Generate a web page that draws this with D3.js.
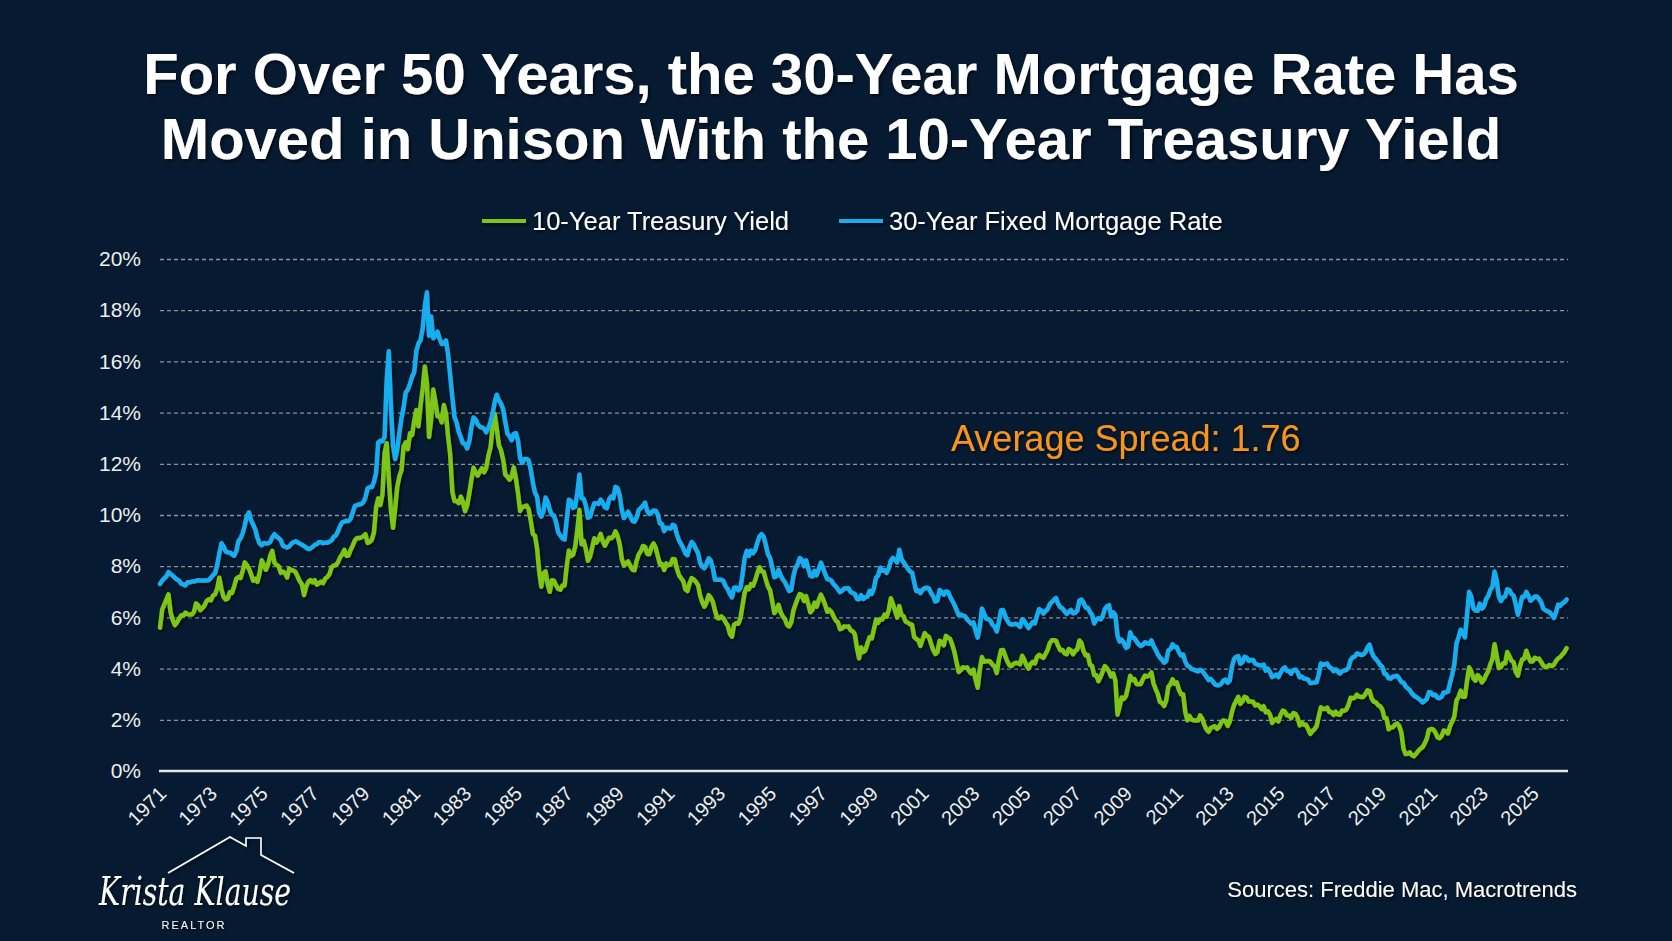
<!DOCTYPE html>
<html>
<head>
<meta charset="utf-8">
<script src="https://cdn.jsdelivr.net/npm/d3@7"></script>
<style>
  html, body { margin: 0; padding: 0; background: #061a31; }
  svg { display: block; font-family: "Liberation Sans", Arial, sans-serif; }
</style>
</head>
<body>
<svg id="chart"></svg>
<script>
// monthly values, first row starts April 1971, one row per calendar year
const firstYear = 1971;
const firstMonth = 3; // 0 = January

const mortgageRows = [
  [7.31,7.43,7.53,7.60,7.77,7.69,7.63,7.55,7.48],
  [7.44,7.32,7.29,7.25,7.37,7.37,7.40,7.40,7.43,7.45,7.44,7.44],
  [7.44,7.44,7.46,7.54,7.65,7.73,8.05,8.50,8.90,8.77,8.58,8.54],
  [8.54,8.46,8.41,8.58,8.97,9.09,9.28,9.59,9.96,10.10,9.79,9.62],
  [9.43,9.10,8.89,8.82,8.91,8.89,8.89,8.94,9.13,9.25,9.15,9.10],
  [9.02,8.81,8.76,8.73,8.77,8.88,8.94,8.97,8.93,8.88,8.84,8.79],
  [8.72,8.67,8.69,8.75,8.83,8.86,8.94,8.94,8.90,8.92,8.92,8.96],
  [9.01,9.15,9.20,9.36,9.57,9.71,9.74,9.78,9.76,9.86,10.11,10.35],
  [10.39,10.41,10.43,10.50,10.69,11.04,11.09,11.09,11.30,11.64,12.83,12.90],
  [12.88,13.04,15.28,16.40,14.26,12.71,12.19,12.56,13.20,13.79,14.21,14.79],
  [14.90,15.13,15.40,15.58,16.40,16.70,16.83,17.29,18.16,18.70,17.00,17.75],
  [16.90,17.00,17.16,16.89,16.68,16.70,16.82,16.27,15.43,14.61,13.83,13.62],
  [13.25,13.04,12.80,12.78,12.60,12.87,13.42,13.81,13.73,13.54,13.44,13.42],
  [13.37,13.23,13.39,13.65,13.94,14.42,14.70,14.47,14.35,14.13,13.64,13.18],
  [13.08,12.92,13.17,13.20,12.91,12.22,12.03,12.19,12.19,12.14,11.78,11.26],
  [10.88,10.71,10.08,9.94,10.14,10.68,10.51,10.20,10.01,9.98,9.70,9.32],
  [9.20,9.08,9.04,9.83,10.60,10.54,10.28,10.33,10.89,11.58,10.65,10.64],
  [10.38,9.89,9.93,10.20,10.46,10.46,10.43,10.60,10.48,10.30,10.27,10.61],
  [10.73,10.65,11.10,11.05,10.77,10.20,9.88,9.99,10.13,9.95,9.77,9.74],
  [9.90,10.20,10.27,10.37,10.48,10.16,10.04,10.10,10.18,10.17,10.01,9.67],
  [9.64,9.37,9.50,9.49,9.47,9.62,9.58,9.24,9.01,8.86,8.71,8.50],
  [8.43,8.76,8.94,8.85,8.67,8.51,8.13,7.98,7.92,8.09,8.31,8.22],
  [7.91,7.47,7.47,7.47,7.47,7.42,7.21,7.11,6.92,6.78,7.16,7.17],
  [7.06,7.15,7.68,8.32,8.60,8.40,8.61,8.51,8.64,8.93,9.17,9.25],
  [9.15,8.83,8.46,8.32,7.96,7.57,7.61,7.86,7.64,7.48,7.38,7.20],
  [7.03,7.08,7.62,7.93,8.07,8.32,8.25,8.00,8.23,7.92,7.62,7.60],
  [7.82,7.65,7.90,8.14,7.94,7.69,7.50,7.48,7.43,7.29,7.21,7.10],
  [6.99,7.04,7.13,7.14,7.14,7.00,6.95,6.92,6.72,6.71,6.87,6.72],
  [6.79,6.81,7.04,6.92,7.15,7.55,7.63,7.94,7.82,7.85,7.74,7.91],
  [8.21,8.33,8.24,8.15,8.64,8.29,8.15,8.03,7.91,7.80,7.75,7.38],
  [7.03,7.05,6.95,7.08,7.15,7.16,7.13,6.95,6.82,6.62,6.66,7.07],
  [7.00,6.89,7.01,6.99,6.81,6.65,6.49,6.29,6.09,6.11,6.07,6.05],
  [5.92,5.84,5.75,5.81,5.48,5.21,5.63,6.35,6.15,5.95,5.93,5.88],
  [5.71,5.64,5.45,5.83,6.27,6.29,6.06,5.87,5.75,5.72,5.73,5.75],
  [5.71,5.63,5.93,5.86,5.72,5.58,5.70,5.82,5.77,6.07,6.33,6.27],
  [6.15,6.25,6.32,6.51,6.60,6.68,6.76,6.52,6.40,6.36,6.24,6.14],
  [6.22,6.29,6.16,6.18,6.26,6.66,6.70,6.57,6.38,6.38,6.21,6.10],
  [5.76,5.92,5.97,5.92,6.04,6.32,6.43,6.48,6.04,6.20,6.09,5.29],
  [5.06,5.13,5.00,4.81,4.86,5.42,5.22,5.19,5.06,4.95,4.88,4.93],
  [5.03,4.99,4.97,5.10,4.89,4.74,4.56,4.43,4.35,4.23,4.30,4.71],
  [4.76,4.95,4.84,4.84,4.64,4.51,4.55,4.27,4.11,4.07,3.99,3.96],
  [3.92,3.89,3.95,3.91,3.80,3.68,3.55,3.60,3.50,3.38,3.35,3.35],
  [3.41,3.53,3.57,3.45,3.54,4.07,4.37,4.46,4.49,4.19,4.26,4.46],
  [4.43,4.30,4.34,4.34,4.19,4.16,4.13,4.12,4.16,3.92,4.00,3.86],
  [3.67,3.71,3.77,3.67,3.84,3.98,4.05,3.91,3.89,3.80,3.94,3.96],
  [3.87,3.66,3.69,3.61,3.60,3.57,3.44,3.44,3.46,3.47,3.77,4.20],
  [4.15,4.17,4.20,4.05,4.01,3.90,3.97,3.88,3.81,3.90,3.92,3.95],
  [4.03,4.33,4.44,4.47,4.59,4.57,4.53,4.55,4.63,4.83,4.94,4.64],
  [4.46,4.37,4.27,4.14,4.07,3.80,3.77,3.62,3.61,3.69,3.70,3.72],
  [3.62,3.47,3.45,3.31,3.23,3.16,3.02,2.94,2.89,2.83,2.77,2.68],
  [2.74,2.81,3.08,3.06,2.96,2.98,2.87,2.84,2.90,3.07,3.07,3.10],
  [3.45,3.76,4.17,4.98,5.23,5.52,5.41,5.22,6.11,7.00,6.81,6.36],
  [6.27,6.26,6.54,6.34,6.43,6.71,6.84,7.07,7.20,7.79,7.44,6.82],
  [6.64,6.78,6.82,7.10,7.06,6.92,6.85,6.50,6.10,6.43,6.81,6.80],
  [7.00,6.84,6.65,6.73,6.82,6.82,6.72,6.59,6.35,6.28,6.24,6.20],
  [6.10,5.98,6.20,6.50,6.45,6.55,6.60,6.70]
];

const treasuryRows = [
  [5.60,6.30,6.50,6.70,6.90,6.20,5.90,5.70,5.80],
  [5.95,6.08,6.07,6.19,6.13,6.11,6.11,6.21,6.55,6.48,6.28,6.36],
  [6.46,6.64,6.71,6.67,6.85,6.90,7.13,7.55,7.10,6.80,6.70,6.74],
  [6.99,6.96,7.21,7.51,7.58,7.54,7.81,8.15,8.04,7.90,7.68,7.43],
  [7.50,7.39,7.73,8.23,8.06,7.86,8.06,8.40,8.60,8.14,8.05,8.00],
  [7.74,7.79,7.73,7.56,7.90,7.86,7.83,7.77,7.59,7.41,7.29,6.87],
  [7.21,7.39,7.46,7.37,7.46,7.28,7.33,7.40,7.34,7.52,7.58,7.69],
  [7.96,8.03,8.04,8.15,8.35,8.46,8.64,8.41,8.42,8.64,8.81,9.01],
  [9.10,9.10,9.12,9.18,9.25,8.91,8.95,9.03,9.33,10.30,10.65,10.39],
  [10.80,12.41,12.80,11.47,10.18,9.50,10.25,11.10,11.51,11.75,12.68,12.84],
  [12.57,13.19,13.12,13.68,14.10,13.47,14.28,14.94,15.80,15.15,13.05,13.72],
  [14.90,14.43,13.86,13.87,13.62,14.30,13.95,13.06,12.34,10.91,10.55,10.54],
  [10.46,10.72,10.51,10.15,10.38,10.85,11.38,11.85,11.65,11.54,11.69,11.83],
  [11.67,11.84,12.32,12.63,13.41,13.95,13.36,12.72,12.52,12.16,11.57,11.50],
  [11.38,11.51,11.86,11.43,10.85,10.16,10.31,10.33,10.37,10.24,9.78,9.26],
  [9.19,8.70,7.78,7.20,7.71,7.80,7.30,7.00,7.45,7.43,7.25,7.11],
  [7.08,7.25,7.25,8.02,8.61,8.40,8.45,8.76,9.42,10.20,8.86,8.99],
  [8.67,8.21,8.37,8.72,9.09,8.92,9.06,9.26,8.98,8.80,8.96,9.11],
  [9.09,9.17,9.36,9.18,8.86,8.28,8.02,8.11,8.19,8.01,7.87,7.84],
  [8.21,8.47,8.59,8.79,8.76,8.48,8.47,8.75,8.89,8.72,8.39,8.08],
  [8.09,7.85,8.11,8.04,8.07,8.28,8.27,7.90,7.65,7.53,7.42,7.09],
  [7.03,7.34,7.54,7.48,7.39,7.26,6.84,6.59,6.42,6.59,6.87,6.77],
  [6.60,6.26,5.98,5.97,6.04,5.96,5.81,5.68,5.36,5.25,5.72,5.77],
  [5.75,5.97,6.48,6.97,7.18,7.10,7.30,7.24,7.46,7.74,7.96,7.81],
  [7.78,7.47,7.20,7.06,6.63,6.17,6.28,6.49,6.20,6.04,5.93,5.71],
  [5.65,5.81,6.27,6.51,6.74,6.91,6.87,6.64,6.83,6.53,6.20,6.30],
  [6.58,6.42,6.69,6.89,6.71,6.49,6.22,6.30,6.21,6.03,5.88,5.81],
  [5.54,5.57,5.65,5.64,5.65,5.50,5.46,5.34,4.81,4.40,4.83,4.65],
  [4.72,5.00,5.23,5.18,5.54,5.90,5.79,5.94,5.92,6.11,6.03,6.28],
  [6.75,6.52,6.26,5.99,6.44,6.10,6.05,5.83,5.80,5.74,5.72,5.24],
  [5.16,5.10,4.89,5.14,5.39,5.28,5.24,4.97,4.73,4.57,4.65,5.09],
  [5.04,4.91,5.28,5.21,5.16,4.93,4.65,4.26,3.87,3.94,4.05,4.03],
  [4.05,3.90,3.81,3.96,3.57,3.25,3.98,4.45,4.27,4.29,4.30,4.27],
  [4.15,4.08,3.83,4.35,4.72,4.73,4.50,4.28,4.13,4.10,4.19,4.23],
  [4.22,4.17,4.50,4.34,4.14,4.00,4.18,4.26,4.20,4.46,4.54,4.47],
  [4.42,4.57,4.72,4.99,5.11,5.11,5.09,4.88,4.72,4.73,4.60,4.56],
  [4.76,4.72,4.56,4.69,4.75,5.10,5.00,4.67,4.52,4.53,4.15,4.10],
  [3.74,3.74,3.51,3.68,3.88,4.10,4.01,3.89,3.69,3.81,3.53,2.20],
  [2.52,2.87,2.82,2.93,3.29,3.72,3.56,3.59,3.40,3.39,3.40,3.59],
  [3.73,3.69,3.73,3.85,3.42,3.20,3.01,2.70,2.65,2.54,2.76,3.29],
  [3.39,3.58,3.41,3.46,3.17,3.00,3.00,2.30,1.98,2.15,2.01,1.98],
  [1.97,1.97,2.17,2.05,1.80,1.62,1.53,1.68,1.72,1.75,1.65,1.72],
  [1.91,1.98,1.96,1.76,1.93,2.30,2.58,2.74,2.90,2.62,2.72,2.90],
  [2.86,2.71,2.72,2.71,2.56,2.60,2.54,2.42,2.53,2.30,2.33,2.21],
  [1.88,1.98,2.04,1.94,2.20,2.36,2.32,2.17,2.17,2.07,2.26,2.24],
  [2.09,1.78,1.89,1.81,1.81,1.64,1.45,1.56,1.63,1.76,2.14,2.49],
  [2.43,2.42,2.48,2.30,2.30,2.19,2.32,2.21,2.20,2.36,2.35,2.40],
  [2.58,2.86,2.84,2.87,2.98,2.91,2.89,2.89,3.00,3.15,3.12,2.83],
  [2.71,2.68,2.57,2.53,2.40,2.07,2.06,1.63,1.70,1.71,1.81,1.86],
  [1.76,1.50,0.87,0.66,0.67,0.73,0.62,0.58,0.68,0.79,0.87,0.93],
  [1.08,1.26,1.61,1.64,1.62,1.52,1.32,1.28,1.37,1.58,1.56,1.47],
  [1.76,1.93,2.13,2.75,2.90,3.14,2.90,2.90,3.52,4.05,3.89,3.62],
  [3.53,3.75,3.66,3.46,3.57,3.75,3.90,4.17,4.38,4.95,4.50,4.02],
  [4.06,4.21,4.21,4.65,4.48,4.31,4.25,3.87,3.72,4.10,4.36,4.39],
  [4.70,4.45,4.28,4.28,4.42,4.38,4.39,4.26,4.12,4.06,4.09,4.14],
  [4.10,4.15,4.30,4.40,4.45,4.55,4.65,4.80]
];

const yTickValues = [0, 2, 4, 6, 8, 10, 12, 14, 16, 18, 20];
const xTickYears = d3.range(1971, 2026, 2);

const seriesNames = ["10-Year Treasury Yield", "30-Year Fixed Mortgage Rate"];
const seriesColors = ["#7dc512", "#17aef0"];
const titleLines = [
  "For Over 50 Years, the 30-Year Mortgage Rate Has",
  "Moved in Unison With the 10-Year Treasury Yield"
];
const spreadNote = "Average Spread: 1.76";
const sourceNote = "Sources: Freddie Mac, Macrotrends";

// turn the year rows into [decimal year, value] points
function toPoints(rows) {
  const pts = [];
  rows.forEach((row, r) => {
    const offset = r === 0 ? firstMonth : 0;
    row.forEach((v, m) => pts.push({ t: firstYear + r + (m + offset) / 12, v: v }));
  });
  return pts;
}
const treasury = toPoints(treasuryRows);
const mortgage = toPoints(mortgageRows);

const W = 1672, H = 941;
const svg = d3.select("#chart").attr("width", W).attr("height", H);

const defs = svg.append("defs");
defs.append("filter").attr("id", "shadow")
  .attr("x", "-10%").attr("y", "-10%").attr("width", "120%").attr("height", "120%")
  .append("feDropShadow")
  .attr("dx", 1.5).attr("dy", 1.5).attr("stdDeviation", 1.5)
  .attr("flood-color", "#000").attr("flood-opacity", 0.7);

svg.append("rect").attr("width", W).attr("height", H).attr("fill", "#061a31");

const x = d3.scaleLinear().domain([1971.25, 2026.6]).range([160, 1567]);
const y = d3.scaleLinear().domain([0, 20]).range([771, 259]);

// title
svg.append("g").attr("filter", "url(#shadow)")
  .selectAll("text").data(titleLines).enter().append("text")
  .attr("x", 831).attr("y", (d, i) => 94 + i * 65)
  .attr("text-anchor", "middle")
  .attr("fill", "#ffffff").attr("font-weight", "bold").attr("font-size", 58)
  .text(d => d);

// gridlines
const grid = svg.append("g")
  .attr("transform", "translate(160,0)")
  .call(d3.axisLeft(y).tickValues(yTickValues.filter(d => d > 0)).tickSize(-1408).tickFormat(""));
grid.select(".domain").remove();
grid.selectAll(".tick line")
  .attr("stroke", "#8b929c").attr("stroke-width", 1.3).attr("stroke-dasharray", "4,3");

// y labels
const yAxis = svg.append("g")
  .attr("transform", "translate(160,0)")
  .call(d3.axisLeft(y).tickValues(yTickValues).tickSize(0).tickPadding(19).tickFormat(d => d + "%"));
yAxis.select(".domain").remove();
yAxis.selectAll("text")
  .attr("fill", "#eeeeee").attr("font-size", 21)
  .style("font-family", "Liberation Sans, Arial, sans-serif");

// x axis
const xAxis = svg.append("g")
  .attr("transform", `translate(0,${y(0)})`)
  .call(d3.axisBottom(x).tickValues(xTickYears.map(d => d + 0.25)).tickSize(0).tickFormat(d => Math.floor(d)));
xAxis.select(".domain")
  .attr("stroke", "#e6e6e6").attr("stroke-width", 2.5)
  .attr("d", `M159,0H1568`);
xAxis.selectAll("text")
  .attr("fill", "#eeeeee").attr("font-size", 20)
  .style("font-family", "Liberation Sans, Arial, sans-serif")
  .attr("text-anchor", "end")
  .attr("y", 0).attr("dy", 0)
  .attr("transform", "translate(7,24) rotate(-45)");

// lines
const line = d3.line().x(d => x(d.t)).y(d => y(d.v)).curve(d3.curveLinear);
const lines = svg.append("g").attr("filter", "url(#shadow)");
[treasury, mortgage].forEach((s, i) => {
  lines.append("path").datum(s)
    .attr("d", line)
    .attr("fill", "none")
    .attr("stroke", seriesColors[i])
    .attr("stroke-width", 4.5)
    .attr("stroke-linejoin", "round")
    .attr("stroke-linecap", "round");
});

// legend
const legendX = [482, 839];
const legend = svg.append("g").attr("filter", "url(#shadow)");
seriesNames.forEach((name, i) => {
  legend.append("line")
    .attr("x1", legendX[i]).attr("x2", legendX[i] + 44)
    .attr("y1", 221).attr("y2", 221)
    .attr("stroke", seriesColors[i]).attr("stroke-width", 4);
  legend.append("text")
    .attr("x", legendX[i] + 50).attr("y", 230)
    .attr("fill", "#ffffff").attr("font-size", 25.5)
    .text(name);
});

// note
svg.append("text")
  .attr("x", 951).attr("y", 451)
  .attr("fill", "#f7941d").attr("font-size", 36)
  .attr("filter", "url(#shadow)")
  .text(spreadNote);

// source
svg.append("text")
  .attr("x", 1577).attr("y", 897)
  .attr("text-anchor", "end")
  .attr("fill", "#ffffff").attr("font-size", 22)
  .attr("filter", "url(#shadow)")
  .text(sourceNote);

// logo
const logo = svg.append("g").attr("filter", "url(#shadow)");
logo.append("path")
  .attr("d", "M168,873 L230,837 L246,846 L246,838 L261,838 L261,855 L294,873")
  .attr("fill", "none").attr("stroke", "#ffffff").attr("stroke-width", 1.6);
logo.append("text")
  .attr("x", 195).attr("y", 905)
  .attr("text-anchor", "middle")
  .attr("fill", "#ffffff").attr("font-size", 40)
  .attr("font-style", "italic")
  .style("font-family", "DejaVu Serif, serif")
  .attr("textLength", 192).attr("lengthAdjust", "spacingAndGlyphs")
  .text("Krista Klause");
logo.append("text")
  .attr("x", 194).attr("y", 929)
  .attr("text-anchor", "middle")
  .attr("fill", "#ffffff").attr("font-size", 11)
  .attr("letter-spacing", 2)
  .text("REALTOR");
</script>
</body>
</html>
